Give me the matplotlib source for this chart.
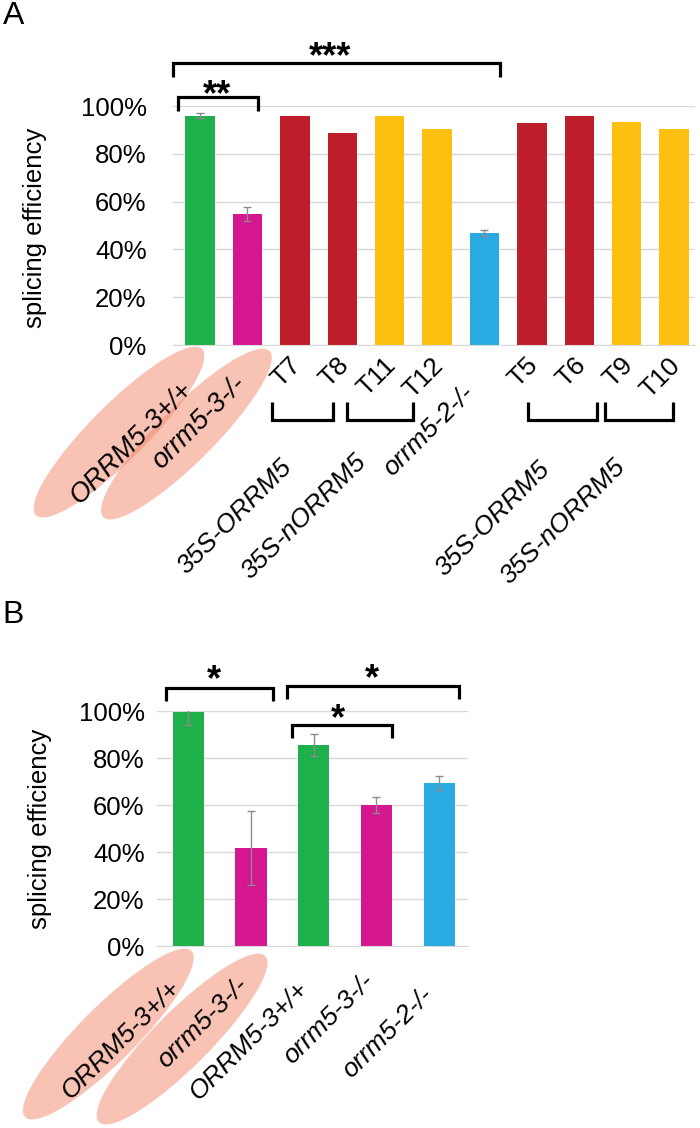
import matplotlib
matplotlib.use("Agg")
import matplotlib.pyplot as plt
from matplotlib.patches import Ellipse
from matplotlib.transforms import ScaledTranslation

plt.rcParams['font.family'] = ['Liberation Sans', 'DejaVu Sans']

# ---- data: panel A
a_labels = ["ORRM5-3+/+", "orrm5-3-/-", "T7", "T8", "T11", "T12", "orrm5-2-/-",
            "T5", "T6", "T9", "T10"]
a_values = [96.0, 54.8, 95.8, 88.7, 95.8, 90.4, 46.9, 92.9, 95.8, 93.3, 90.4]
a_err = [1.0, 2.9, 0, 0, 0, 0, 1.2, 0, 0, 0, 0]
a_groups = ["35S-ORRM5", "35S-nORRM5", "35S-ORRM5", "35S-nORRM5"]

# ---- data: panel B
b_labels = ["ORRM5-3+/+", "orrm5-3-/-", "ORRM5-3+/+", "orrm5-3-/-", "orrm5-2-/-"]
b_values = [99.6, 41.7, 85.5, 60.0, 69.4]
b_err = [5.4, 15.7, 4.8, 3.4, 2.9]

GREEN, MAGENTA, RED, YELLOW, BLUE = '#1db04b', '#d4168f', '#bd1e2a', '#fdbf10', '#29abe2'
a_colors = [GREEN, MAGENTA, RED, RED, YELLOW, YELLOW, BLUE, RED, RED, YELLOW, YELLOW]
b_colors = [GREEN, MAGENTA, GREEN, MAGENTA, BLUE]

ELL_COLOR = '#f2876a'
PT = 0.72  # pixels -> points at dpi 100

fig = plt.figure(figsize=(7, 11.28), dpi=100)


def style_axes(ax, yerr_pad):
    ax.set_ylim(0, 100)
    ax.set_yticks(range(0, 101, 20))
    ax.set_yticklabels(["%d%%" % v for v in range(0, 101, 20)], fontsize=18.5)
    ax.set_xticks([])
    ax.tick_params(axis='y', length=0, pad=yerr_pad)
    for s in ['left', 'top', 'right']:
        ax.spines[s].set_visible(False)
    ax.spines['bottom'].set_color('#d9d9d9')
    ax.set_axisbelow(True)
    ax.yaxis.grid(True, color='#d9d9d9', lw=1)
    ax.set_ylabel("splicing efficiency", fontsize=18.5)


def bracket(ax, x1, x2, y_line, y_leg, lw=2.3):
    ax.plot([x1, x1, x2, x2], [y_leg, y_line, y_line, y_leg], color='k', lw=lw,
            clip_on=False, solid_joinstyle='miter', solid_capstyle='butt')


def stars(ax, x, y, s):
    ax.text(x, y, s, ha='center', va='bottom', fontsize=26, fontweight='bold',
            clip_on=False)


def label(ax, x, text, dx, dy, italic=True, size=19):
    # dx, dy in pixels relative to the bar's base
    ax.annotate(text, xy=(x, 0), xycoords='data', xytext=(dx * PT, dy * PT),
                textcoords='offset points', rotation=45, rotation_mode='anchor',
                ha='right', va='top', fontsize=size,
                fontstyle='italic' if italic else 'normal', annotation_clip=False,
                zorder=5)


def ellipse(ax, x, cx, cy):
    tr = fig.dpi_scale_trans + ScaledTranslation(x, 0, ax.transData)
    e = Ellipse((cx, cy), 2.35, 0.56, angle=45, transform=tr, facecolor=ELL_COLOR,
                alpha=0.5, edgecolor='none', clip_on=False, zorder=1)
    ax.add_artist(e)


# ================= Panel A =================
axA = fig.add_axes([0.2471, 0.6941, 0.7457, 0.2119])
xa = list(range(len(a_values)))
axA.bar(xa, a_values, width=0.62, color=a_colors, zorder=2)
err_idx = [i for i in xa if a_err[i] > 0]
axA.errorbar([xa[i] for i in err_idx], [a_values[i] for i in err_idx],
             yerr=[a_err[i] for i in err_idx], fmt='none', ecolor='#8c8c8c',
             elinewidth=1, capsize=3, zorder=3)
axA.set_xlim(-0.57, 10.44)
style_axes(axA, 19)
axA.yaxis.set_label_coords(-0.241, 0.49)

# significance brackets
bracket(axA, -0.57, 6.32, 118.0, 112.1)
stars(axA, 2.74, 113.0, "***")
bracket(axA, -0.46, 1.22, 103.8, 97.9)
stars(axA, 0.36, 97.0, "**")

# x labels
ellipse(axA, 0, -0.81, -0.87)
ellipse(axA, 1, -0.61, -0.89)
label(axA, 0, a_labels[0], -20, -32, size=19.5)
label(axA, 1, a_labels[1], -15, -26, size=19.5)
for i in [2, 3, 4, 5, 7, 8, 9, 10]:
    label(axA, i, a_labels[i], -6, -8, italic=False)
label(axA, 5.82, a_labels[6], -14, -36)

# group brackets under T-labels
for x1, x2 in [(1.52, 2.81), (3.10, 4.50), (6.92, 8.38), (8.54, 9.98)]:
    bracket(axA, x1, x2, -31.5, -24.0)
for gx, gdy, g in zip([1.94, 3.50, 7.38, 8.96], [-110, -105, -112, -110], a_groups):
    label(axA, gx, g, -12, gdy)

# ================= Panel B =================
axB = fig.add_axes([0.2243, 0.1613, 0.4443, 0.2083])
xb = list(range(len(b_values)))
axB.bar(xb, b_values, width=0.5, color=b_colors, zorder=2)
axB.errorbar(xb, b_values, yerr=b_err, fmt='none', ecolor='#8c8c8c',
             elinewidth=1, capsize=3, zorder=3)
axB.set_xlim(-0.5, 4.46)
style_axes(axB, 9)
axB.yaxis.set_label_coords(-0.338, 0.50)

bracket(axB, -0.35, 1.35, 109.8, 104.3)
stars(axB, 0.40, 105.3, "*")
bracket(axB, 1.58, 4.32, 110.6, 105.1)
stars(axB, 2.92, 105.8, "*")
bracket(axB, 1.66, 3.24, 94.0, 88.5)
stars(axB, 2.39, 88.7, "*")

ellipse(axB, 0, -0.80, -0.88)
ellipse(axB, 1, -0.69, -0.93)
for i, (dx, dy) in enumerate([(-20, -30), (-16, -27), (-18, -31), (-15, -23), (-19, -37)]):
    label(axB, i, b_labels[i], dx, dy)

# panel letters
fig.text(0.004, 0.9995, "A", fontsize=23, va='top', ha='left')
fig.text(0.004, 1 - 600 / 1128, "B", fontsize=23, va='top', ha='left')

fig.savefig("out.png", dpi=100)
